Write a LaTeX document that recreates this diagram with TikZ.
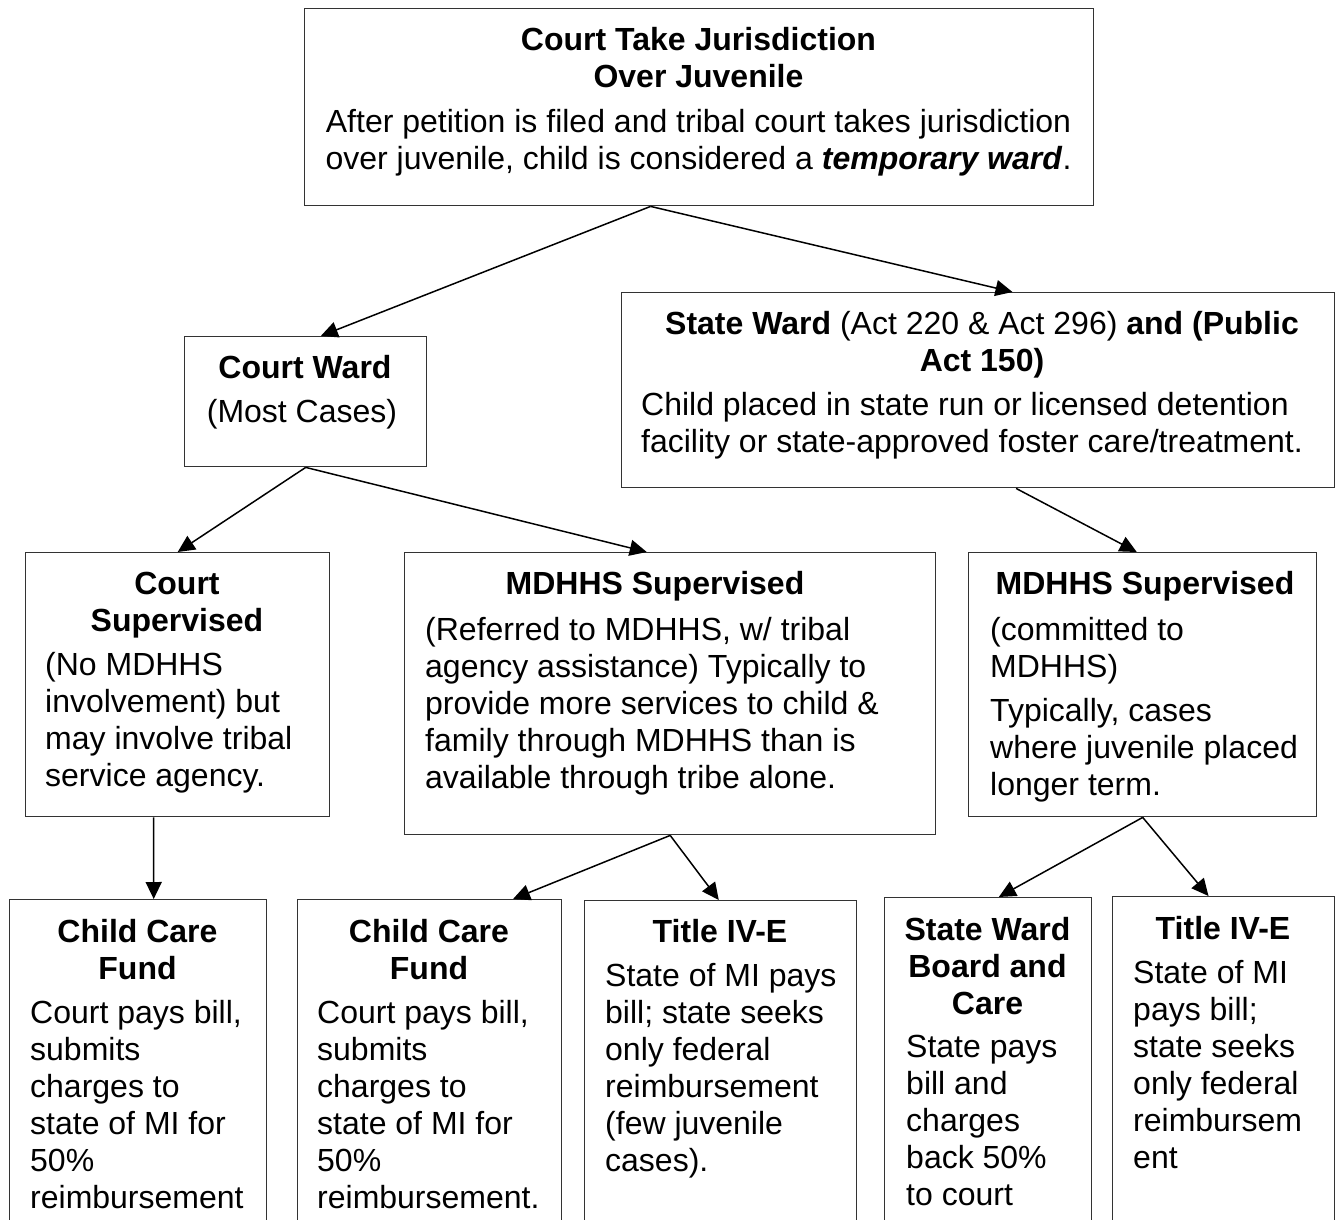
\documentclass[tikz,border=0pt]{standalone}
\usepackage{fontspec}
\setmainfont{Liberation Sans}
\usetikzlibrary{arrows.meta,calc}
\newcommand{\bxfont}{\fontsize{32}{37}\selectfont}
\begin{document}
\begin{tikzpicture}[x=1pt,y=-1pt,
  box/.style={draw=black!80, line width=1.4pt, anchor=north west, inner sep=0pt, fill=white},
  txtbase/.style={inner sep=0pt, font=\bxfont},
  ttl/.style={txtbase, anchor=base, text width=#1, align=flush center, font=\bxfont\bfseries},
  ctr/.style={txtbase, anchor=base, text width=#1, align=flush center},
  bdy/.style={txtbase, anchor=base west, text width=#1, align=flush left},
  arr/.style={line width=1.5pt, black, -{Triangle[length=17pt,width=16pt]}}]
\clip (0,0) rectangle (1344,1220);
\fill[white] (0,0) rectangle (1344,1220);

% boxes
\node[box, minimum width=789, minimum height=197] (top) at (304,8) {};
\node[box, minimum width=242, minimum height=130] (cw) at (184,336) {};
\node[box, minimum width=713, minimum height=195] (sw) at (621,292) {};
\node[box, minimum width=304, minimum height=264] (cs) at (25,552) {};
\node[box, minimum width=531, minimum height=282] (mm) at (404,552) {};
\node[box, minimum width=348, minimum height=264] (mr) at (968,552) {};
\node[box, minimum width=257, minimum height=341] (b1) at (9,899) {};
\node[box, minimum width=264, minimum height=341] (b2) at (297,899) {};
\node[box, minimum width=272, minimum height=340] (b3) at (584,900) {};
\node[box, minimum width=207, minimum height=343] (b4) at (884,897) {};
\node[box, minimum width=222, minimum height=344] (b5) at (1112,896) {};

% texts
\node[ttl=760] (topT) at (698.5,51) {Court Take Jurisdiction\\Over Juvenile};
\node[ctr=780] (topB) at (698.5,132) {After petition is filed and tribal court takes jurisdiction\\over juvenile, child is considered a \textbf{\textit{temporary ward}}.};

\node[ttl=230] (cwT) at (305,378) {Court Ward};
\node[ctr=230] (cwB) at (302,422) {(Most Cases)};

\node[ctr=700] (swT) at (982,334) {\textbf{State Ward} (Act 220 \& Act 296) \textbf{and (Public}\\\textbf{Act 150)}};
\node[bdy=690] (swB) at (641,415) {Child placed in state run or licensed detention\\facility or state-approved foster care/treatment.};

\node[ttl=290] (csT) at (177,594) {Court\\Supervised};
\node[bdy=280] (csB) at (45,675) {(No MDHHS\\involvement) but\\may involve tribal\\service agency.};

\node[ttl=480] (mmT) at (655,594) {MDHHS Supervised};
\node[bdy=500] (mmB) at (425,640) {(Referred to MDHHS, w/ tribal\\agency assistance) Typically to\\provide more services to child \&\\family through MDHHS than is\\available through tribe alone.};

\node[ttl=330] (mrT) at (1145,594) {MDHHS Supervised};
\node[bdy=320] (mrB) at (990,640) {(committed to\\MDHHS)\\[7pt]Typically, cases\\where juvenile placed\\longer term.};

\node[ttl=250] (b1T) at (137.5,942) {Child Care\\Fund};
\node[bdy=235] (b1B) at (30,1023) {Court pays bill,\\submits\\charges to\\state of MI for\\50\%\\reimbursement};

\node[ttl=255] (b2T) at (429,942) {Child Care\\Fund};
\node[bdy=240] (b2B) at (317,1023) {Court pays bill,\\submits\\charges to\\state of MI for\\50\%\\reimbursement.};

\node[ttl=260] (b3T) at (720,942) {Title IV-E};
\node[bdy=248] (b3B) at (605,986) {State of MI pays\\bill; state seeks\\only federal\\reimbursement\\(few juvenile\\cases).};

\node[ttl=200] (b4T) at (987.5,940) {State Ward\\Board and\\Care};
\node[bdy=183] (b4B) at (906,1057) {State pays\\bill and\\charges\\back 50\%\\to court};

\node[ttl=215] (b5T) at (1223,939) {Title IV-E};
\node[bdy=200] (b5B) at (1133,983) {State of MI\\pays bill;\\state seeks\\only federal\\reimbursem\\ent};

% connectors
\draw[arr] ($(top.south west)!0.4385!(top.south east)$) -- ($(cw.north west)!0.562!(cw.north east)$);
\draw[arr] ($(top.south west)!0.4385!(top.south east)$) -- ($(sw.north west)!0.548!(sw.north east)$);
\draw[arr] (cw.south) -- (cs.north);
\draw[arr] (cw.south) -- ($(mm.north west)!0.456!(mm.north east)$);
\draw[arr] ($(sw.south west)!0.553!(sw.south east)$) -- ($(mr.north west)!0.483!(mr.north east)$);
\draw[arr] ($(cs.south west)!0.421!(cs.south east)$) -- ($(b1.north west)!0.560!(b1.north east)$);
\draw[arr] (mm.south) -- ($(b2.north west)!0.814!(b2.north east)$);
\draw[arr] (mm.south) -- ($(b3.north west)!0.493!(b3.north east)$);
\draw[arr] (mr.south) -- ($(b4.north west)!0.551!(b4.north east)$);
\draw[arr] (mr.south) -- ($(b5.north west)!0.432!(b5.north east)$);
\end{tikzpicture}
\end{document}
